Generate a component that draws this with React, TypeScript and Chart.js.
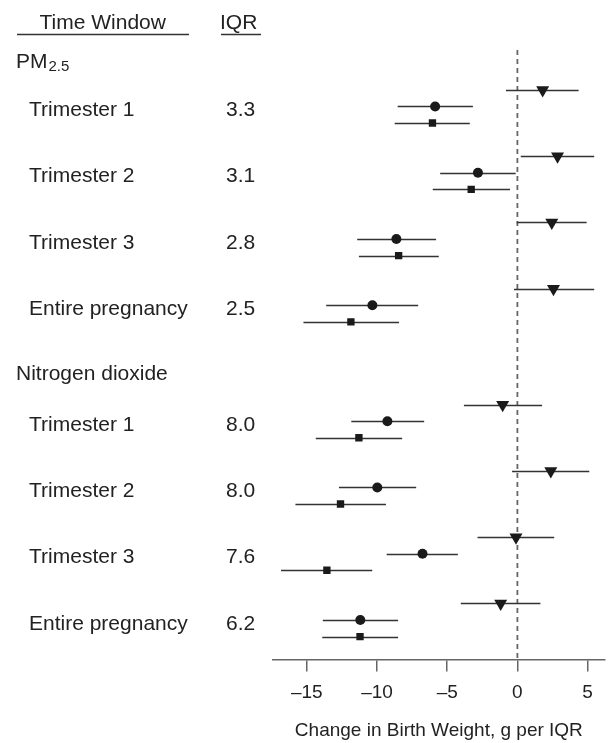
import React, { useEffect, useRef } from 'react';
import { Chart, registerables } from 'chart.js';

Chart.register(...registerables);

// ---------- data ----------
const pollutants = ['PM', 'Nitrogen dioxide'];
const pmSubscript = '2.5';
const windows = ['Trimester 1', 'Trimester 2', 'Trimester 3', 'Entire pregnancy'];
const iqrPM = ['3.3', '3.1', '2.8', '2.5'];
const iqrNO2 = ['8.0', '8.0', '7.6', '6.2'];
const headerWindow = 'Time Window';
const headerIQR = 'IQR';

// rows: PM2.5 T1..Entire, then NO2 T1..Entire
const triEst = [1.8, 2.86, 2.45, 2.57, -1.05, 2.38, -0.1, -1.19];
const triLo = [-0.81, 0.24, -0.05, -0.24, -3.81, -0.38, -2.84, -4.03];
const triHi = [4.36, 5.47, 4.93, 5.47, 1.76, 5.12, 2.62, 1.64];

const cirEst = [-5.86, -2.81, -8.62, -10.33, -9.26, -9.98, -6.76, -11.19];
const cirLo = [-8.53, -5.5, -11.41, -13.62, -11.83, -12.71, -9.31, -13.86];
const cirHi = [-3.17, -0.12, -5.79, -7.07, -6.64, -7.21, -4.24, -8.5];

const sqEst = [-6.05, -3.29, -8.46, -11.86, -11.29, -12.6, -13.57, -11.21];
const sqLo = [-8.74, -6.03, -11.29, -15.24, -14.36, -15.81, -16.84, -13.9];
const sqHi = [-3.39, -0.53, -5.6, -8.43, -8.21, -9.36, -10.34, -8.5];

const xTicks = [-15, -10, -5, 0, 5];
const axisTitle = 'Change in Birth Weight, g per IQR';

// ---------- layout helpers ----------
const FONT = '"Liberation Sans", Arial, Helvetica, sans-serif';
const rowSlot = (i: number) => (i < 4 ? 0 : 19) + (i % 4) * 4;

const seriesList = [
  { est: triEst, lo: triLo, hi: triHi, offset: 0 },
  { est: cirEst, lo: cirLo, hi: cirHi, offset: 1 },
  { est: sqEst, lo: sqLo, hi: sqHi, offset: 2 },
];

const forestPlugin = {
  id: 'forest',
  beforeDatasetsDraw(chart: any) {
    const { ctx, scales, chartArea } = chart;
    const x = scales.x;
    const y = scales.y;
    ctx.save();
    // dashed reference line at 0
    const x0 = x.getPixelForValue(0);
    ctx.strokeStyle = '#666';
    ctx.lineWidth = 1.8;
    ctx.setLineDash([5, 4]);
    ctx.beginPath();
    ctx.moveTo(x0, y.getPixelForValue(-2.41));
    ctx.lineTo(x0, chartArea.bottom);
    ctx.stroke();
    ctx.setLineDash([]);
    // confidence intervals
    ctx.strokeStyle = '#333';
    ctx.lineWidth = 1.6;
    seriesList.forEach((s) => {
      s.est.forEach((_, i) => {
        const yp = Math.round(y.getPixelForValue(rowSlot(i) + s.offset)) + 0.5;
        ctx.beginPath();
        ctx.moveTo(x.getPixelForValue(s.lo[i]), yp);
        ctx.lineTo(x.getPixelForValue(s.hi[i]), yp);
        ctx.stroke();
      });
    });
    ctx.restore();
  },
  afterDraw(chart: any) {
    const { ctx, scales } = chart;
    const y = scales.y;
    const fs = 21;
    const cap = fs * 0.716;
    ctx.save();
    ctx.fillStyle = '#222';
    ctx.textBaseline = 'alphabetic';
    ctx.textAlign = 'left';
    ctx.font = `${fs}px ${FONT}`;
    const base = (slot: number) => y.getPixelForValue(slot) + cap / 2;

    // headers
    ctx.fillText(headerWindow, 39.5, base(-4.12));
    ctx.fillText(headerIQR, 220, base(-4.12));
    ctx.strokeStyle = '#333';
    ctx.lineWidth = 1.5;
    const uy = Math.round(y.getPixelForValue(-3.37)) + 0.5;
    ctx.beginPath();
    ctx.moveTo(17, uy);
    ctx.lineTo(189, uy);
    ctx.moveTo(221, uy);
    ctx.lineTo(261, uy);
    ctx.stroke();

    // PM2.5 group header
    const pmBase = base(-1.8);
    ctx.fillText(pollutants[0], 16, pmBase);
    const pmW = ctx.measureText(pollutants[0]).width;
    ctx.font = `${Math.round(fs * 0.7)}px ${FONT}`;
    ctx.fillText(pmSubscript, 16 + pmW + 1, pmBase + 3);
    ctx.font = `${fs}px ${FONT}`;

    // NO2 group header
    ctx.fillText(pollutants[1], 16, base(19 - 1.96));

    // row labels
    for (let i = 0; i < 8; i++) {
      const b = base(rowSlot(i) + 1) + 2;
      ctx.fillText(windows[i % 4], 29, b);
      ctx.fillText(i < 4 ? iqrPM[i] : iqrNO2[i - 4], 226, b);
    }
    ctx.restore();
  },
};

export default function App() {
  const ref = useRef<HTMLCanvasElement>(null);
  useEffect(() => {
    if (!ref.current) return;
    const mk = (est: number[], offset: number) =>
      est.map((v, i) => ({ x: v, y: rowSlot(i) + offset }));
    const chart = new Chart(ref.current, {
      type: 'scatter',
      data: {
        datasets: [
          {
            data: mk(triEst, 0),
            pointStyle: 'triangle',
            rotation: 180,
            pointRadius: 7.5,
            backgroundColor: '#1a1a1a',
            borderWidth: 0,
          },
          {
            data: mk(cirEst, 1),
            pointStyle: 'circle',
            pointRadius: 5,
            backgroundColor: '#1a1a1a',
            borderWidth: 0,
          },
          {
            data: mk(sqEst, 2),
            pointStyle: 'rect',
            pointRadius: 5.2,
            backgroundColor: '#1a1a1a',
            borderWidth: 0,
          },
        ],
      } as any,
      options: {
        animation: false,
        responsive: false,
        devicePixelRatio: 1,
        layout: { autoPadding: false, padding: { left: 272.7, right: 3, top: 0, bottom: 0 } },
        plugins: { legend: { display: false }, tooltip: { enabled: false } },
        scales: {
          x: {
            type: 'linear',
            min: -17.43,
            max: 6.24,
            afterBuildTicks: (scale: any) => {
              scale.ticks = xTicks.map((v) => ({ value: v }));
            },
            afterFit: (scale: any) => {
              scale.paddingLeft = 0;
              scale.paddingRight = 0;
            },
            ticks: {
              callback: (v: any) => (Number(v) < 0 ? '\u2013' + Math.abs(Number(v)) : String(v)),
              font: { family: FONT, size: 19 },
              color: '#222',
              padding: 10,
              maxRotation: 0,
              autoSkip: false,
            },
            grid: {
              drawOnChartArea: false,
              tickLength: 12,
              color: '#666',
              lineWidth: 1.5,
            },
            border: { color: '#666', width: 1.5 },
            title: {
              display: true,
              text: axisTitle,
              font: { family: FONT, size: 19 },
              color: '#222',
              padding: { top: 5, bottom: 1 },
            },
          },
          y: {
            type: 'linear',
            display: false,
            reverse: true,
            min: -5.428,
            max: 34.379,
          },
        },
      } as any,
      plugins: [forestPlugin],
    });
    return () => chart.destroy();
  }, []);
  return (
    <div style={{ position: 'fixed', left: 0, top: 0, width: 608, height: 743, background: '#fff' }}>
      <canvas ref={ref} width={608} height={743} style={{ display: 'block' }} />
    </div>
  );
}
